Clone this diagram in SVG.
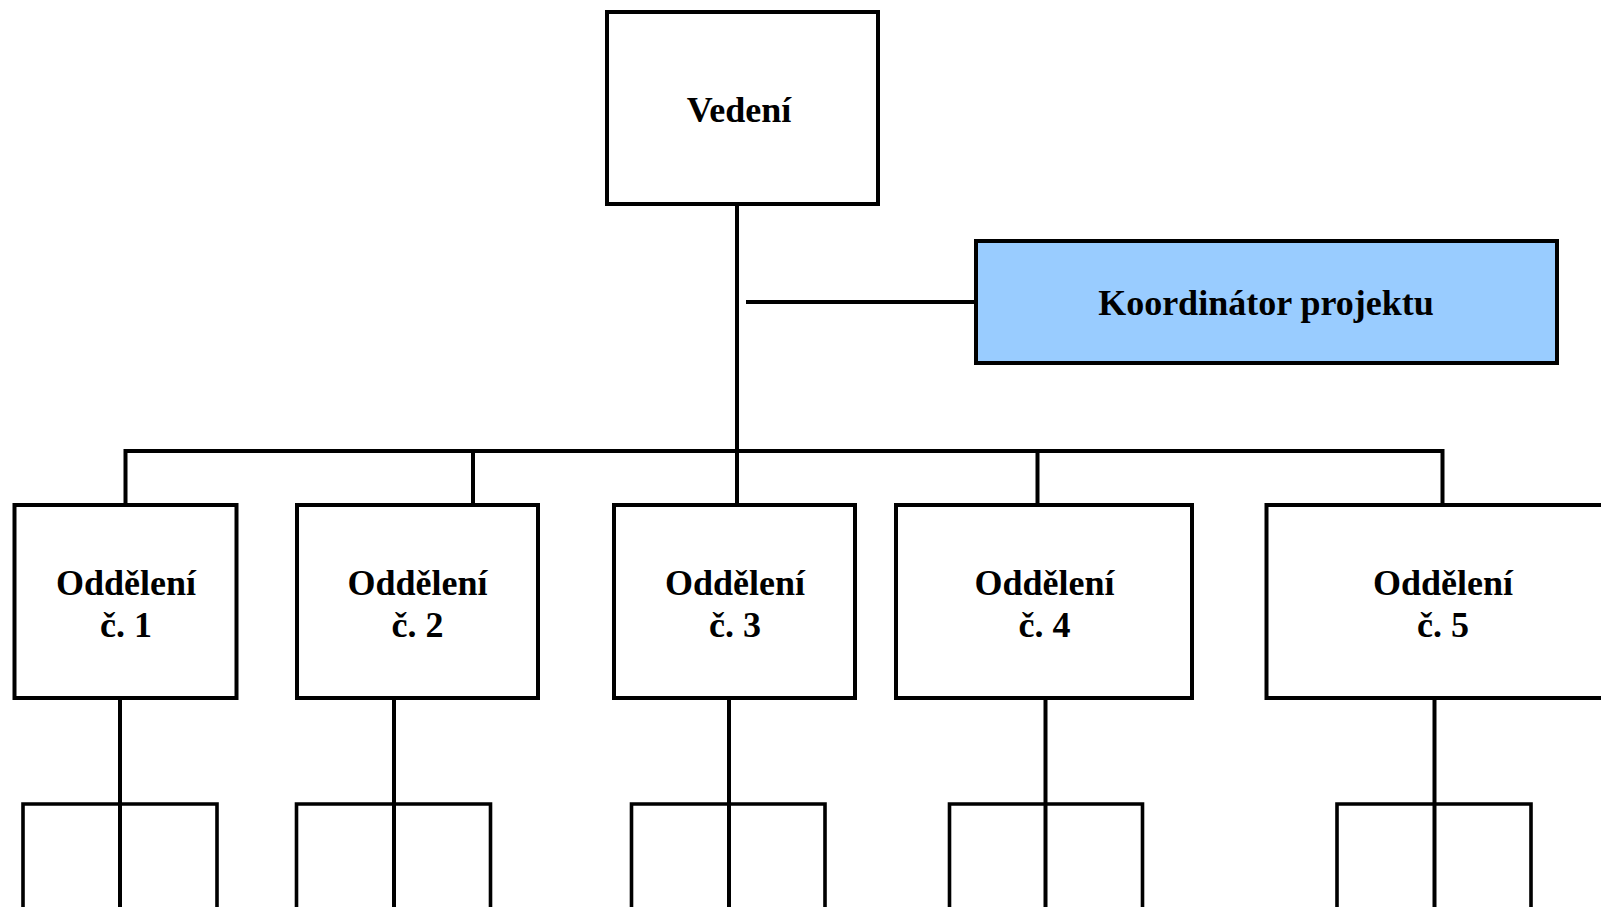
<svg xmlns="http://www.w3.org/2000/svg" width="1601" height="907" viewBox="0 0 1601 907">
  <style>
    .box { fill: #ffffff; stroke: #000000; stroke-width: 4; }
    .coord { fill: #99ccff; stroke: #000000; stroke-width: 4; }
    .line { fill: none; stroke: #000000; stroke-width: 4; stroke-linejoin: miter; stroke-linecap: butt; }
    .sub { fill: none; stroke: #000000; stroke-width: 3.6; stroke-linejoin: miter; stroke-linecap: butt; }
    .label { font-family: "Liberation Serif", "Times New Roman", serif; font-weight: bold; font-size: 36px; fill: #000000; text-anchor: middle; }
  </style>
  <rect width="1601" height="907" fill="#ffffff"/>

  <!-- connectors -->
  <g id="connectors">
    <!-- trunk from management down to department 3 -->
    <path class="line" d="M737 205 V504"/>
    <!-- branch to project coordinator -->
    <path class="line" d="M746 302 H976"/>
    <!-- horizontal bus to departments -->
    <path class="line" d="M125.5 504 V451 H1442.5 V504"/>
    <path class="line" d="M473 451 V504"/>
    <path class="line" d="M1037.5 451 V504"/>
    <!-- sub-branches below each department -->
    <path class="line" d="M120 698 V907"/>
    <path class="sub" d="M23 907 V804 H217 V907"/>
    <path class="line" d="M394 698 V907"/>
    <path class="sub" d="M296.5 907 V804 H490.5 V907"/>
    <path class="line" d="M729 698 V907"/>
    <path class="sub" d="M631.5 907 V804 H825 V907"/>
    <path class="line" d="M1045.5 698 V907"/>
    <path class="sub" d="M949.5 907 V804 H1142.5 V907"/>
    <path class="line" d="M1434.5 698 V907"/>
    <path class="sub" d="M1337 907 V804 H1531 V907"/>
  </g>

  <g id="vedeni">
    <rect class="box" x="607" y="12" width="271" height="192"/>
    <text class="label" x="739" y="122">Vedení</text>
  </g>

  <g id="koordinator">
    <rect class="coord" x="976" y="241" width="581" height="122"/>
    <text class="label" x="1266" y="315">Koordinátor projektu</text>
  </g>

  <g id="oddeleni-1">
    <rect class="box" x="14.5" y="505" width="222" height="193"/>
    <text class="label" x="126" y="595">Oddělení</text>
    <text class="label" x="126" y="637">č. 1</text>
  </g>

  <g id="oddeleni-2">
    <rect class="box" x="297" y="505" width="241" height="193"/>
    <text class="label" x="417.5" y="595">Oddělení</text>
    <text class="label" x="417.5" y="637">č. 2</text>
  </g>

  <g id="oddeleni-3">
    <rect class="box" x="614" y="505" width="241" height="193"/>
    <text class="label" x="735" y="595">Oddělení</text>
    <text class="label" x="735" y="637">č. 3</text>
  </g>

  <g id="oddeleni-4">
    <rect class="box" x="896" y="505" width="296" height="193"/>
    <text class="label" x="1044.5" y="595">Oddělení</text>
    <text class="label" x="1044.5" y="637">č. 4</text>
  </g>

  <g id="oddeleni-5">
    <rect class="box" x="1266.5" y="505" width="360" height="193"/>
    <text class="label" x="1443" y="595">Oddělení</text>
    <text class="label" x="1443" y="637">č. 5</text>
  </g>
</svg>
